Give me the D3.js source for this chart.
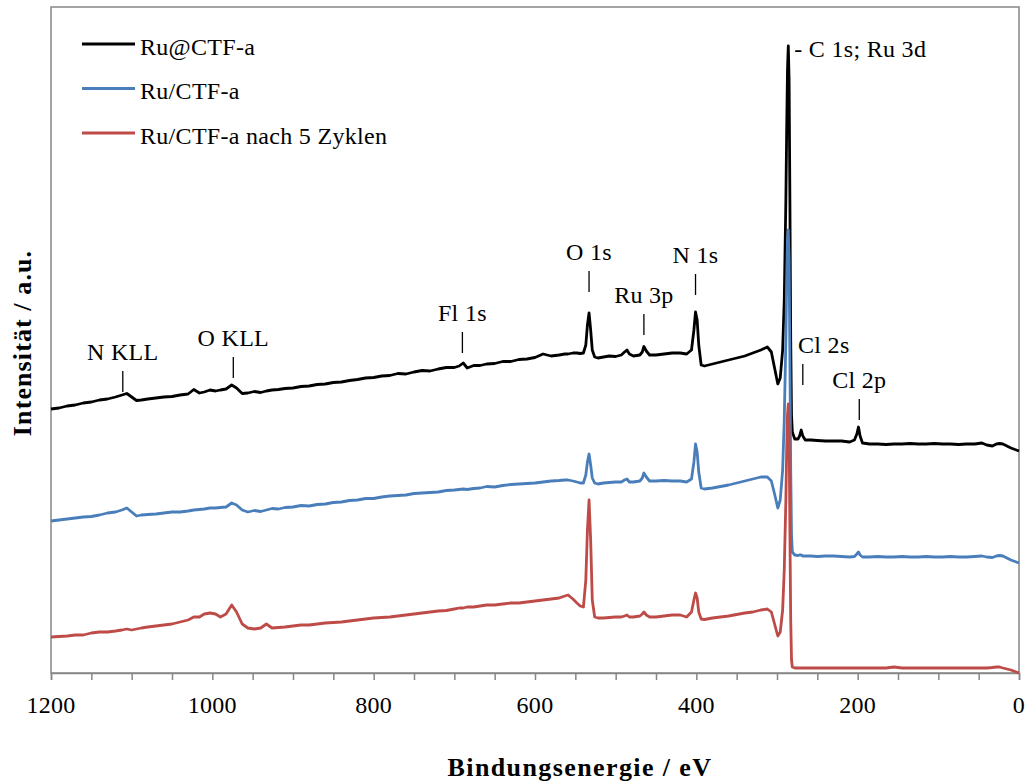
<!DOCTYPE html>
<html>
<head>
<meta charset="utf-8">
<script src="https://cdn.jsdelivr.net/npm/d3@7"></script>
<style>
  html, body { margin: 0; padding: 0; background: #ffffff; }
  svg { display: block; }
  text { font-family: "Liberation Serif", "Times New Roman", serif; fill: #000; }
</style>
</head>
<body>
<svg id="chart" width="1026" height="782"></svg>
<script>
// XPS survey spectra, binding energy in eV (descending), intensity in a.u.
const bindingEnergy = [
  1200,1190,1180,1170,1160,1150,1140,1130,1120,1112,
  1106,1100,1094,1088,1080,1070,1060,1050,1040,1030,
  1023,1016,1010,1003,996,990,983,976,970,963,
  956,948,940,933,926,918,910,900,890,880,
  870,860,850,840,830,820,810,800,790,780,
  770,760,750,740,730,720,710,700,694,689,
  684,676,668,660,650,640,630,620,610,600,
  590,580,570,563,559,553,548,544,540,537,
  535,533,531,529,526,522,515,508,500,493,
  489,486,483,478,470,467,465,462,458,450,
  440,430,420,412,406,403,401,399,397,394,
  390,380,370,360,350,340,330,320,312,307,
  303,299,296,293,291,289,288,287,286,285,
  284,283,282,281,278,274,272,270,268,265,
  258,250,240,230,220,210,204,201,199,197,
  194,185,175,165,155,145,135,125,115,105,
  95,85,75,65,55,46,40,33,28,24,
  20,15,10,5,0
];

// Ru@CTF-a
const ruAtCtf = [
  264,265,267,268,270,271,273,274,276,278,
  279.5,276,272.5,273,274,275,276,276.5,278,279,
  283.5,280,281,283,282,283,284,288,285,279.5,
  280,281.5,280.5,282,283,283.5,284.5,285,286.5,287,
  288.5,289,290.5,291,292.5,293.5,295,295.5,297,297.5,
  299.5,299,301,302.5,302,304,305.5,305.5,307,310,
  305,307.5,307.5,309,309.5,311.5,311.5,313.5,314,315.5,
  319,317,318,319,319,320,320,319.5,320,328,
  348,360,343,323,316,315,316,317,316.5,318,
  321,323,319,317,318,321,326.5,322,318,318,
  319,320,320,319,323,343,361,353,328,308,
  307,309,311,313,315,317,320,323,326,321,
  305,289,295,323,373,473,543,603,627,593,
  473,333,258,241,234,234,237,243,237,233,
  233,232.5,232,232,232,231,233,239,246,237,
  230,229,229,228.5,229,229,229.5,229,229,229.5,
  229,229,228.5,229,229,230,228,227,229,229.5,
  229,227,225,223.5,222
];

// Ru/CTF-a
const ruOnCtf = [
  152,153,154,155,156,156.5,158,160,161,163,
  165,161,157,158,158.5,159,160,161,161,162,
  163,163.5,164,165,165,165.5,166,170,168,163,
  161,162.5,161.5,163,164.5,164,165.5,166,167.5,167,
  168.5,169,170.5,171,172.5,173,174.5,174.5,176,177,
  177.5,178,179.5,180,180.5,181,182.5,183,183.5,184,
  183.5,184.5,185,186.5,186,187.5,188.5,189,189.5,190,
  191,192,192.5,193,193,192,191,190,190,198,
  211,219,208,195,190,189,190,190.5,191,191,
  193,194,191,191,192,195,200,196,192,192,
  192.5,192,192,191,194,211,229,221,201,185,
  184,185,186.5,188,190,192,194,196,196,192,
  179,165,173,203,253,333,393,433,443,413,
  313,203,138,121,118,117.5,118,118,117,117,
  117,116.5,117,117,116.5,116,116.5,119,121,118,
  116,116,116.5,116,116,116.5,116,116,116.5,116,
  116,116.5,116,116,116.5,117,116,115.5,117,117.5,
  117,115,113,111.5,110
];

// Ru/CTF-a nach 5 Zyklen
const ruOnCtfCycled = [
  36,36.5,37,38,38,40,41,41,42,43,
  44,43,44,45,46,47,48,49,51,53,
  56,56,59,60,59,56,59,68,61,49,
  45,44,45,49,45,45.5,46,47,48,48,
  49,50,50.5,51,52,53,54,55,55.5,56,
  57,58,59,60,61,62,62.5,64,65,65,
  66,66,67,68,68,69,70,70,71,72,
  73,74,75,77,78,74,70,67,66,93,
  143,173,133,73,56,55,55,55.5,56,56,
  57,58,56,56,57,59,61,58,56,56,
  57,58,58,56,61,73,80,75,61,54,
  53.5,55,56,57,58.5,60,61,63,64,61,
  49,37,41,63,103,173,223,258,269,243,
  143,53,13,6,5,5,5,5,5,5,
  5,5,5,5,5,5,5,5,5,5,
  5,5,5,5,6,5,5,5,5,5,
  5,5,5,5,5,5,5,5.5,6,6,
  5,4,3,1.5,0
];

const seriesNames = ["Ru@CTF-a", "Ru/CTF-a", "Ru/CTF-a nach 5 Zyklen"];
const seriesValues = [ruAtCtf, ruOnCtf, ruOnCtfCycled];
const seriesColors = ["#000000", "#4a7ebb", "#be4b48"];

const energyTicks = [1200, 1000, 800, 600, 400, 200, 0];
const minorStep = 50;

// Peak assignments: label, energy (eV), intensity where the marker ends
const peakNames    = ["N KLL", "O KLL", "Fl 1s", "O 1s", "Ru 3p", "N 1s", "Cl 2s", "Cl 2p"];
const peakEnergies = [1111, 974, 690, 533, 465, 401, 268, 198];
const peakLevels   = [281, 295, 320, 381, 338, 378, 288, 253];
const mainPeakName = "- C 1s; Ru 3d";
const mainPeakEnergy = 286;
const mainPeakLevel = 627;

// horizontal nudge for labels that sit beside a crowded region
const labelShift = [0, 0, 0, 0, 0, 0, 21, 0];

const svg = d3.select("#chart");
const plotLeft = 51, plotRight = 1019, plotTop = 7, plotBottom = 673;
const labelFont = "24px";
const labelSpacing = "0.3px";

const x = d3.scaleLinear().domain([1200, 0]).range([plotLeft, plotRight]);
const y = d3.scaleLinear().domain([0, 666]).range([plotBottom, plotTop]);

// plot frame
svg.append("rect")
  .attr("x", plotLeft).attr("y", plotTop)
  .attr("width", plotRight - plotLeft).attr("height", plotBottom - plotTop)
  .attr("fill", "none").attr("stroke", "#868686").attr("stroke-width", 1.5);

// x axis with minor ticks every 50 eV
const minorTicks = d3.range(1200, -1, -minorStep);
const axisG = svg.append("g").attr("transform", `translate(0,${plotBottom})`);
axisG.call(d3.axisBottom(x).tickValues(minorTicks).tickSize(7).tickFormat(""))
  .call(g => g.select(".domain").attr("stroke", "#868686").attr("stroke-width", 1.5))
  .call(g => g.selectAll(".tick line").attr("stroke", "#868686").attr("stroke-width", 1.5));

axisG.selectAll("text.tlabel")
  .data(energyTicks)
  .join("text")
  .attr("class", "tlabel")
  .attr("x", d => x(d))
  .attr("y", 40)
  .attr("text-anchor", "middle")
  .style("font-size", labelFont)
  .style("letter-spacing", labelSpacing)
  .text(d => d);

// spectra
const line = d3.line()
  .x((d, i) => x(bindingEnergy[i]))
  .y(d => y(d));

seriesValues.forEach((vals, k) => {
  svg.append("path")
    .datum(vals)
    .attr("fill", "none")
    .attr("stroke", seriesColors[k])
    .attr("stroke-width", 2.8)
    .attr("stroke-linejoin", "round")
    .attr("d", line);
});

// peak assignment markers
const peaks = peakNames.map((n, i) => ({ name: n, e: peakEnergies[i], v: peakLevels[i], dx: labelShift[i] }));
const pg = svg.append("g");
pg.selectAll("line")
  .data(peaks)
  .join("line")
  .attr("x1", d => x(d.e)).attr("x2", d => x(d.e))
  .attr("y1", d => y(d.v)).attr("y2", d => y(d.v) - 21)
  .attr("stroke", "#000").attr("stroke-width", 1.3);
pg.selectAll("text")
  .data(peaks)
  .join("text")
  .attr("x", d => x(d.e) + d.dx)
  .attr("y", d => y(d.v) - 32)
  .attr("text-anchor", "middle")
  .style("font-size", labelFont)
  .style("letter-spacing", labelSpacing)
  .text(d => d.name);

svg.append("text")
  .attr("x", x(mainPeakEnergy) + 6)
  .attr("y", y(mainPeakLevel) + 11)
  .style("font-size", labelFont)
  .style("letter-spacing", labelSpacing)
  .text(mainPeakName);

// legend
const legend = svg.append("g");
seriesNames.forEach((name, k) => {
  const ly = 44 + k * 44.5;
  legend.append("line")
    .attr("x1", 82).attr("x2", 135).attr("y1", ly).attr("y2", ly)
    .attr("stroke", seriesColors[k]).attr("stroke-width", 3);
  legend.append("text")
    .attr("x", 140).attr("y", ly + 10.5)
    .style("font-size", labelFont)
    .style("letter-spacing", labelSpacing)
    .text(name);
});

// axis titles
svg.append("text")
  .attr("x", (plotLeft + plotRight) / 2 + 45).attr("y", 776)
  .attr("text-anchor", "middle")
  .style("font-size", "26px").style("font-weight", "bold")
  .style("letter-spacing", "1.4px")
  .text("Bindungsenergie / eV");

svg.append("text")
  .attr("transform", "translate(31,343) rotate(-90)")
  .attr("text-anchor", "middle")
  .style("font-size", "26px").style("font-weight", "bold")
  .style("letter-spacing", "1.1px")
  .text("Intensität / a.u.");
</script>
</body>
</html>
